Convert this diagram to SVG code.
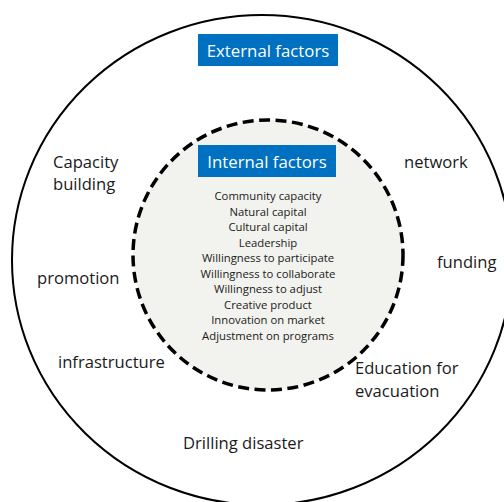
<svg xmlns="http://www.w3.org/2000/svg" width="504" height="502" viewBox="0 0 504 502">
  <style>
    .label { font-family: "Open Sans", "Liberation Sans", sans-serif; font-size: 16.6px; fill: #1a1a1a; }
    .item { font-family: "Open Sans", "Liberation Sans", sans-serif; font-size: 11.3px; fill: #1a1a1a; text-anchor: middle; }
    .title { font-family: "Open Sans", "Liberation Sans", sans-serif; font-size: 16.8px; fill: #ffffff; text-anchor: middle; }
    .banner { fill: #0070c0; }
  </style>
  <rect width="504" height="502" fill="#ffffff"/>

  <!-- outer ring: external factors -->
  <g id="external">
    <ellipse cx="262" cy="260" rx="250" ry="245" fill="none" stroke="#000" stroke-width="2"/>
    <rect class="banner" x="198" y="34" width="140" height="32"/>
    <text class="title" x="268" y="57">External factors</text>
  </g>

  <!-- inner dashed circle: internal factors -->
  <g id="internal">
    <circle cx="268" cy="255" r="135" fill="#f2f2ee" stroke="#000" stroke-width="3.5" stroke-dasharray="11 5.5"/>
    <rect class="banner" x="198" y="145" width="138" height="32"/>
    <text class="title" x="267" y="168">Internal factors</text>
    <text class="item" x="268" y="200">Community capacity</text>
    <text class="item" x="268" y="215.5">Natural capital</text>
    <text class="item" x="268" y="231">Cultural capital</text>
    <text class="item" x="268" y="246.5">Leadership</text>
    <text class="item" x="268" y="262">Willingness to participate</text>
    <text class="item" x="268" y="277.5">Willingness to collaborate</text>
    <text class="item" x="268" y="293">Willingness to adjust</text>
    <text class="item" x="268" y="308.5">Creative product</text>
    <text class="item" x="268" y="324">Innovation on market</text>
    <text class="item" x="268" y="339.5">Adjustment on programs</text>
  </g>

  <!-- external factor labels -->
  <g id="capacity-building"><text class="label" x="53" y="168">Capacity</text><text class="label" x="53" y="190">building</text></g>
  <g id="promotion"><text class="label" x="37" y="284">promotion</text></g>
  <g id="infrastructure"><text class="label" x="58" y="368">infrastructure</text></g>
  <g id="network"><text class="label" x="404" y="168">network</text></g>
  <g id="funding"><text class="label" x="437" y="268">funding</text></g>
  <g id="education"><text class="label" x="355" y="374">Education for</text><text class="label" x="355" y="397">evacuation</text></g>
  <g id="drilling"><text class="label" x="183" y="449">Drilling disaster</text></g>

  <g id="connectors"/>
</svg>
